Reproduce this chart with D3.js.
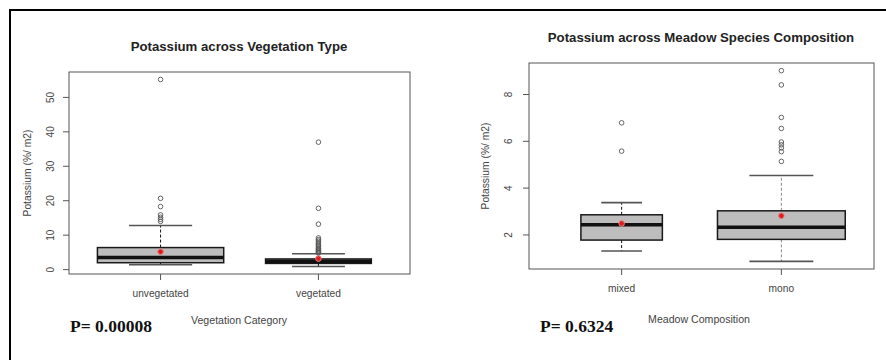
<!DOCTYPE html>
<html>
<head>
<meta charset="utf-8">
<script src="https://cdn.jsdelivr.net/npm/d3@7"></script>
<style>
  body { margin: 0; background: #fff; }
  svg { display: block; }
  text { font-family: "Liberation Sans", Arial, sans-serif; }
</style>
</head>
<body>
<div id="chart"></div>
<script>
// left panel: Potassium across Vegetation Type
const vegCategories = ['unvegetated', 'vegetated'];
const vegLow = [1.4, 0.9];
const vegQ1 = [2.0, 1.8];
const vegMedian = [3.5, 2.4];
const vegQ3 = [6.4, 3.1];
const vegHigh = [12.8, 4.6];
const vegMean = [5.2, 3.2];
const vegOutliers = [
  [55.2, 20.7, 18.3, 15.9, 15.2, 14.6, 14.0],
  [37.0, 17.8, 13.2, 9.2, 8.7, 8.3, 7.8, 7.4, 7.0, 6.6, 6.2, 5.9, 5.6, 5.3, 5.0, 4.8]
];
const vegTicks = [0, 10, 20, 30, 40, 50];

// right panel: Potassium across Meadow Species Composition
const meadowCategories = ['mixed', 'mono'];
const meadowLow = [1.31, 0.87];
const meadowQ1 = [1.78, 1.81];
const meadowMedian = [2.44, 2.33];
const meadowQ3 = [2.86, 3.03];
const meadowHigh = [3.38, 4.54];
const meadowMean = [2.49, 2.82];
const meadowOutliers = [
  [6.79, 5.58],
  [9.02, 8.41, 7.02, 6.55, 5.97, 5.85, 5.72, 5.56, 5.14]
];
const meadowTicks = [2, 4, 6, 8];

const width = 886, height = 360;

const svg = d3.select('#chart').append('svg')
  .attr('width', width).attr('height', height);

// outer frame (top and left edges only are visible)
svg.append('path')
  .attr('d', `M10,${height} L10,10 L${width},10`)
  .attr('fill', 'none').attr('stroke', '#000').attr('stroke-width', 2);

function rows(cats, low, q1, med, q3, high, mean, outs) {
  return cats.map((c, i) => ({
    cat: c, low: low[i], q1: q1[i], med: med[i], q3: q3[i],
    high: high[i], mean: mean[i], outs: outs[i], pos: i + 1
  }));
}

function drawPanel(p) {
  const g = svg.append('g');
  const data = p.data;

  // R style: xlim = [0.5, n + 0.5] and 4% padding on both axes
  const allVals = data.flatMap(d => [d.low, d.high, ...d.outs]);
  const [lo, hi] = d3.extent(allVals);
  const pad = (hi - lo) * 0.04;
  const y = d3.scaleLinear().domain([lo - pad, hi + pad]).range([p.bottom, p.top]);
  const x = d3.scaleLinear().domain([0.42, data.length + 0.58]).range([p.left, p.right]);
  const unit = x(2) - x(1);

  // plot frame
  g.append('rect')
    .attr('x', p.left).attr('y', p.top)
    .attr('width', p.right - p.left).attr('height', p.bottom - p.top)
    .attr('fill', 'none').attr('stroke', '#555').attr('stroke-width', 1);

  // y axis ticks + rotated labels
  const yAxis = g.append('g');
  yAxis.selectAll('line').data(p.ticks).join('line')
    .attr('x1', p.left - 6).attr('x2', p.left)
    .attr('y1', d => y(d)).attr('y2', d => y(d))
    .attr('stroke', '#555');
  yAxis.selectAll('text').data(p.ticks).join('text')
    .attr('transform', d => `translate(${p.tickLabelX}, ${y(d)}) rotate(-90)`)
    .attr('text-anchor', 'middle').attr('font-size', 10).attr('fill', '#444')
    .text(d => d);

  // x axis ticks + category labels
  const xAxis = g.append('g');
  xAxis.selectAll('line').data(data).join('line')
    .attr('x1', d => x(d.pos)).attr('x2', d => x(d.pos))
    .attr('y1', p.bottom).attr('y2', p.bottom + 6)
    .attr('stroke', '#555');
  xAxis.selectAll('text').data(data).join('text')
    .attr('x', d => x(d.pos)).attr('y', p.catLabelY)
    .attr('text-anchor', 'middle').attr('font-size', 10.2).attr('fill', '#444')
    .text(d => d.cat);

  const boxes = g.selectAll('g.box').data(data).join('g').attr('class', 'box');

  // whiskers (dashed)
  boxes.append('line')
    .attr('x1', d => x(d.pos)).attr('x2', d => x(d.pos))
    .attr('y1', d => y(d.q3)).attr('y2', d => y(d.high))
    .attr('stroke', (d, i) => p.whiskerColor[i]).attr('stroke-dasharray', '3,2');
  boxes.append('line')
    .attr('x1', d => x(d.pos)).attr('x2', d => x(d.pos))
    .attr('y1', d => y(d.q1)).attr('y2', d => y(d.low))
    .attr('stroke', (d, i) => p.whiskerColor[i]).attr('stroke-dasharray', '3,2');

  // staples, half the box width
  ['low', 'high'].forEach(k => {
    boxes.append('line')
      .attr('x1', (d, i) => x(d.pos) - unit * p.boxFrac[i] / 4)
      .attr('x2', (d, i) => x(d.pos) + unit * p.boxFrac[i] / 4)
      .attr('y1', d => y(d[k])).attr('y2', d => y(d[k]))
      .attr('stroke', '#555').attr('stroke-width', 1.6);
  });

  boxes.append('rect')
    .attr('x', (d, i) => x(d.pos) - unit * p.boxFrac[i] / 2)
    .attr('width', (d, i) => unit * p.boxFrac[i])
    .attr('y', d => y(d.q3)).attr('height', d => y(d.q1) - y(d.q3))
    .attr('fill', '#bdbdbd').attr('stroke', '#1a1a1a').attr('stroke-width', 1.5);

  boxes.append('line')
    .attr('x1', (d, i) => x(d.pos) - unit * p.boxFrac[i] / 2)
    .attr('x2', (d, i) => x(d.pos) + unit * p.boxFrac[i] / 2)
    .attr('y1', d => y(d.med)).attr('y2', d => y(d.med))
    .attr('stroke', '#111').attr('stroke-width', 3.5);

  // outliers
  boxes.selectAll('circle.out').data(d => d.outs.map(v => ({ v, pos: d.pos }))).join('circle')
    .attr('class', 'out')
    .attr('cx', d => x(d.pos)).attr('cy', d => y(d.v)).attr('r', 2.3)
    .attr('fill', 'none').attr('stroke', '#555').attr('stroke-width', 0.9);

  // mean point
  boxes.append('circle')
    .attr('cx', d => x(d.pos)).attr('cy', d => y(d.mean)).attr('r', 2.8)
    .attr('fill', '#d81e1e').attr('stroke', '#f08080').attr('stroke-width', 1);

  // titles and labels
  g.append('text')
    .attr('x', p.titleX).attr('y', p.titleY)
    .attr('text-anchor', 'middle').attr('font-size', 13.2).attr('font-weight', 'bold')
    .attr('fill', '#222').text(p.title);
  g.append('text')
    .attr('transform', `translate(${p.yLabelX}, ${(p.top + p.bottom) / 2}) rotate(-90)`)
    .attr('text-anchor', 'middle').attr('font-size', 10.3).attr('fill', '#444')
    .text('Potassium (%/ m2)');
  g.append('text')
    .attr('x', p.xLabelX).attr('y', p.xLabelY)
    .attr('text-anchor', 'middle').attr('font-size', 10.6).attr('fill', '#444')
    .text(p.xLabel);
  g.append('text')
    .attr('x', p.pX).attr('y', p.pY)
    .style('font-family', '"Liberation Serif", "Times New Roman", serif')
    .attr('font-size', 17.5).attr('font-weight', 'bold').attr('fill', '#111')
    .text(p.pText);
}

drawPanel({
  data: rows(vegCategories, vegLow, vegQ1, vegMedian, vegQ3, vegHigh, vegMean, vegOutliers),
  ticks: vegTicks,
  left: 69, right: 410, top: 72, bottom: 274,
  boxFrac: [0.8, 0.67],
  whiskerColor: ['#111', '#111'],
  tickLabelX: 54, yLabelX: 31, catLabelY: 297,
  title: 'Potassium across Vegetation Type', titleX: 239, titleY: 51,
  xLabel: 'Vegetation Category', xLabelX: 239, xLabelY: 324,
  pText: 'P= 0.00008', pX: 70, pY: 332
});

drawPanel({
  data: rows(meadowCategories, meadowLow, meadowQ1, meadowMedian, meadowQ3, meadowHigh, meadowMean, meadowOutliers),
  ticks: meadowTicks,
  left: 529, right: 874, top: 63, bottom: 269,
  boxFrac: [0.51, 0.8],
  whiskerColor: ['#111', '#888'],
  tickLabelX: 512, yLabelX: 489, catLabelY: 292,
  title: 'Potassium across Meadow Species Composition', titleX: 701, titleY: 42,
  xLabel: 'Meadow Composition', xLabelX: 699, xLabelY: 323,
  pText: 'P= 0.6324', pX: 540, pY: 332
});
</script>
</body>
</html>
